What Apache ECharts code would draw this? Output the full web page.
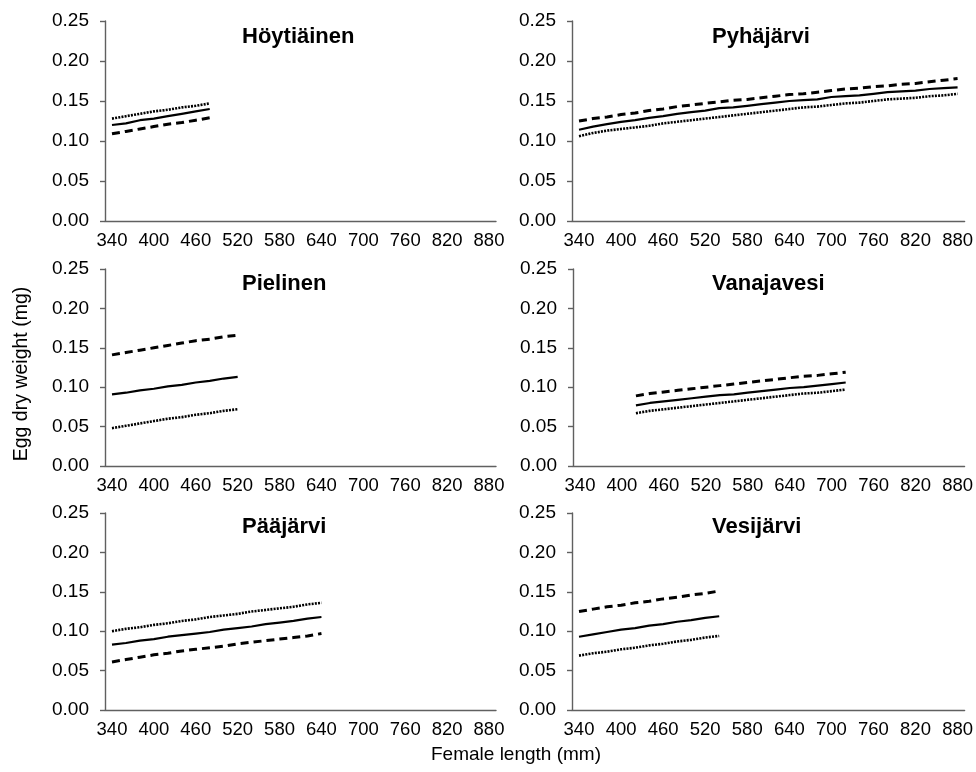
<!DOCTYPE html>
<html lang="en">

<head>
    <meta charset="UTF-8">
    <title>Egg dry weight vs female length</title>
    <script src="https://cdn.jsdelivr.net/npm/echarts@6/dist/echarts.min.js"></script>
    <style>
        html,
        body {
            margin: 0;
            width: 100%;
            height: 100%;
            background: #fff;
        }
    </style>
</head>

<body>
    <div id="chart" style="width: 976px;height: 772px;"></div>
    <script>
        // female length categories (mm)
        var categories = ['340', '360', '380', '400', '420', '440', '460', '480', '500', '520',
            '540', '560', '580', '600', '620', '640', '660', '680', '700', '720',
            '740', '760', '780', '800', '820', '840', '860', '880'];
        var yTicks = [0, 0.05, 0.10, 0.15, 0.20, 0.25];

        var lakes = ['Höytiäinen', 'Pyhäjärvi', 'Pielinen', 'Vanajavesi', 'Pääjärvi', 'Vesijärvi'];
        // first length of each lake's curves
        var lakeStart = ['340', '340', '340', '420', '340', '340'];

        var hoytiainenSolid = [0.120, 0.122, 0.126, 0.128, 0.131, 0.134, 0.137, 0.140];
        var hoytiainenDashed = [0.109, 0.112, 0.115, 0.118, 0.121, 0.123, 0.126, 0.129];
        var hoytiainenDotted = [0.128, 0.131, 0.134, 0.137, 0.139, 0.142, 0.144, 0.147];

        var pyhajarviSolid = [0.114, 0.118, 0.121, 0.124, 0.126, 0.129, 0.131, 0.134, 0.136, 0.138,
            0.141, 0.142, 0.144, 0.146, 0.148, 0.150, 0.151, 0.152, 0.155, 0.156,
            0.157, 0.159, 0.161, 0.162, 0.163, 0.165, 0.166, 0.167];
        var pyhajarviDashed = [0.125, 0.128, 0.130, 0.133, 0.135, 0.138, 0.140, 0.143, 0.145, 0.147,
            0.149, 0.151, 0.152, 0.154, 0.156, 0.158, 0.159, 0.161, 0.163, 0.165,
            0.166, 0.168, 0.169, 0.171, 0.172, 0.174, 0.176, 0.178];
        var pyhajarviDotted = [0.106, 0.110, 0.113, 0.115, 0.117, 0.119, 0.122, 0.124, 0.126, 0.128,
            0.130, 0.132, 0.134, 0.136, 0.138, 0.140, 0.142, 0.143, 0.145, 0.147,
            0.148, 0.150, 0.152, 0.153, 0.154, 0.156, 0.157, 0.159];

        var pielinenSolid = [0.091, 0.093, 0.096, 0.098, 0.101, 0.103, 0.106, 0.108, 0.111, 0.113];
        var pielinenDashed = [0.141, 0.144, 0.147, 0.150, 0.153, 0.156, 0.159, 0.161, 0.164, 0.166];
        var pielinenDotted = [0.048, 0.051, 0.054, 0.057, 0.060, 0.062, 0.065, 0.067, 0.070, 0.072];

        var vanajavesiSolid = [0.077, 0.080, 0.082, 0.084, 0.086, 0.088, 0.090, 0.091,
            0.093, 0.095, 0.097, 0.099, 0.100, 0.102, 0.104, 0.106];
        var vanajavesiDashed = [0.089, 0.092, 0.094, 0.096, 0.098, 0.100, 0.102, 0.104,
            0.106, 0.108, 0.110, 0.112, 0.114, 0.115, 0.117, 0.119];
        var vanajavesiDotted = [0.067, 0.070, 0.072, 0.074, 0.076, 0.078, 0.080, 0.082,
            0.084, 0.086, 0.088, 0.090, 0.092, 0.093, 0.095, 0.097];

        var paajarviSolid = [0.083, 0.085, 0.088, 0.090, 0.093, 0.095, 0.097, 0.099,
            0.102, 0.104, 0.106, 0.109, 0.111, 0.113, 0.116, 0.118];
        var paajarviDashed = [0.061, 0.064, 0.067, 0.070, 0.072, 0.075, 0.077, 0.079,
            0.081, 0.084, 0.086, 0.088, 0.090, 0.092, 0.094, 0.097];
        var paajarviDotted = [0.100, 0.103, 0.105, 0.108, 0.110, 0.113, 0.115, 0.118,
            0.120, 0.122, 0.125, 0.127, 0.129, 0.131, 0.134, 0.136];

        var vesijarviSolid = [0.093, 0.096, 0.099, 0.102, 0.104, 0.107, 0.109, 0.112, 0.114, 0.117, 0.119];
        var vesijarviDashed = [0.125, 0.128, 0.131, 0.133, 0.136, 0.138, 0.141, 0.143, 0.146, 0.148, 0.151];
        var vesijarviDotted = [0.069, 0.072, 0.074, 0.077, 0.079, 0.082, 0.084, 0.087, 0.089, 0.092, 0.094];

        var lakeSeries = [
            [hoytiainenSolid, hoytiainenDashed, hoytiainenDotted],
            [pyhajarviSolid, pyhajarviDashed, pyhajarviDotted],
            [pielinenSolid, pielinenDashed, pielinenDotted],
            [vanajavesiSolid, vanajavesiDashed, vanajavesiDotted],
            [paajarviSolid, paajarviDashed, paajarviDotted],
            [vesijarviSolid, vesijarviDashed, vesijarviDotted]
        ];

        var FONT = '"Liberation Sans", Arial, sans-serif';
        var TEXT = '#000';
        var AXIS = '#606060';

        // panel boxes [left, top, width, height]
        var boxes = [
            [105, 21, 391, 200],
            [572, 21, 393, 200],
            [105, 269, 391, 197],
            [573, 269, 392, 197],
            [105, 513, 391, 197],
            [572, 513, 393, 197]
        ];
        var titlePos = [[242, 26], [712, 26], [242, 273], [712, 273], [242, 516], [712, 516]];

        var lineStyles = [
            { type: 'solid', width: 2.2 },
            { type: [8, 5], width: 3 },
            { type: [2, 1.2], width: 2.6 }
        ];

        function pad(start, values) {
            var idx = categories.indexOf(start);
            return categories.map(function (c, i) {
                var k = i - idx;
                return k >= 0 && k < values.length ? values[k] : null;
            });
        }

        var grid = [], xAxis = [], yAxis = [], series = [], title = [];
        boxes.forEach(function (b, i) {
            grid.push({ left: b[0], top: b[1], width: b[2], height: b[3] });
            xAxis.push({
                type: 'category',
                gridIndex: i,
                data: categories,
                boundaryGap: true,
                axisLine: { lineStyle: { color: AXIS, width: 1.4 } },
                axisTick: { interval: 0, length: 5, lineStyle: { color: AXIS, width: 1.4 } },
                axisLabel: { interval: 2, margin: 10, color: TEXT, fontSize: 18.5, fontFamily: FONT },
                splitLine: { show: false }
            });
            yAxis.push({
                type: 'value',
                gridIndex: i,
                min: yTicks[0],
                max: yTicks[yTicks.length - 1],
                interval: 0.05,
                axisLine: { show: true, lineStyle: { color: AXIS, width: 1.4 } },
                axisTick: { show: true, length: 5, lineStyle: { color: AXIS, width: 1.4 } },
                axisLabel: {
                    margin: 16, color: TEXT, fontSize: 19, fontFamily: FONT,
                    formatter: function (v) { return v.toFixed(2); }
                },
                splitLine: { show: false }
            });
            title.push({
                text: lakes[i],
                left: titlePos[i][0],
                top: titlePos[i][1],
                padding: 0,
                textStyle: { fontSize: 22, fontWeight: 'bold', color: TEXT, fontFamily: FONT }
            });
            lakeSeries[i].forEach(function (vals, j) {
                series.push({
                    type: 'line',
                    xAxisIndex: i,
                    yAxisIndex: i,
                    data: pad(lakeStart[i], vals),
                    showSymbol: false,
                    symbol: 'none',
                    animation: false,
                    lineStyle: { color: '#000', type: lineStyles[j].type, width: lineStyles[j].width }
                });
            });
        });

        var chart = echarts.init(document.getElementById('chart'));
        chart.setOption({
            backgroundColor: '#fff',
            animation: false,
            title: title,
            grid: grid,
            xAxis: xAxis,
            yAxis: yAxis,
            series: series,
            graphic: [
                {
                    type: 'text',
                    x: 22, y: 374, rotation: Math.PI / 2,
                    style: {
                        text: 'Egg dry weight (mg)', fill: TEXT, align: 'center', verticalAlign: 'middle',
                        font: '19.5px ' + FONT
                    }
                },
                {
                    type: 'text',
                    x: 516, y: 755,
                    style: {
                        text: 'Female length (mm)', fill: TEXT, align: 'center', verticalAlign: 'middle',
                        font: '19px ' + FONT
                    }
                }
            ]
        });
    </script>
</body>

</html>
